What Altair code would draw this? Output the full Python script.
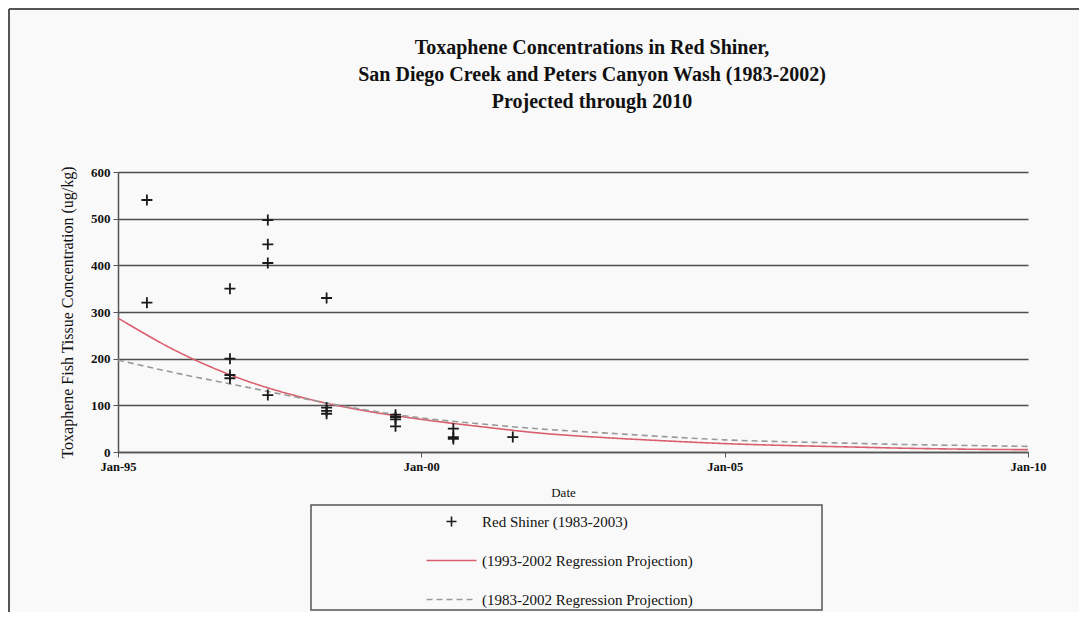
import altair as alt
import pandas as pd

# ---- data ----
S_PTS = "Red Shiner (1983-2003)"
S_RED = "(1993-2002 Regression Projection)"
S_GRAY = "(1983-2002 Regression Projection)"

pt_dates = ["1995-06-24", "1995-06-24",
            "1996-11-05", "1996-11-05", "1996-11-05", "1996-11-05",
            "1997-06-21", "1997-06-21", "1997-06-21", "1997-06-21",
            "1998-06-10", "1998-06-10", "1998-06-10", "1998-06-10",
            "1999-07-30", "1999-07-30", "1999-07-30", "1999-07-30",
            "2000-07-12", "2000-07-12", "2000-07-12",
            "2001-07-05"]
pt_values = [540, 320,
             350, 200, 165, 158,
             497, 445, 405, 122,
             330, 95, 88, 82,
             80, 75, 70, 55,
             50, 32, 28,
             32]

curve_dates = ["1995-01-01", "1996-01-01", "1997-01-01", "1998-01-01",
               "1999-01-01", "2000-01-01", "2001-01-01", "2002-01-01",
               "2003-01-01", "2004-01-01", "2005-01-01", "2006-01-01",
               "2007-01-01", "2008-01-01", "2009-01-01", "2010-01-01"]
red_values = [287, 214, 158, 118, 90, 70, 54, 40, 31, 24, 18, 14, 11, 8, 6, 5]
gray_values = [197, 168, 142, 116, 92, 73, 60, 49, 41, 33, 26, 22, 19, 16, 14, 12]

series_order = [S_PTS, S_RED, S_GRAY]
series_colors = ["#1a1a1a", "#d95f6e", "#9a9a9a"]
series_shapes = ["M-1,0H1M0,-1V1", "M-5,0H5", "M-5,0H5"]
series_dashes = [[1, 0], [1, 0], [6, 4]]

pts = pd.DataFrame({"date": pd.to_datetime(pt_dates), "value": pt_values, "series": S_PTS})
curves = pd.concat([
    pd.DataFrame({"date": pd.to_datetime(curve_dates), "value": red_values, "series": S_RED}),
    pd.DataFrame({"date": pd.to_datetime(curve_dates), "value": gray_values, "series": S_GRAY}),
])

FONT = "Liberation Serif"

legend = alt.Legend(orient="none", legendX=326, legendY=342, title=None,
                    symbolSize=100, symbolStrokeWidth=1.6, labelOffset=23,
                    rowPadding=23, padding=0, symbolOffset=0,
                    labelFont=FONT, labelFontSize=15, labelColor="#111",
                    labelLimit=500)

x_enc = alt.X("date:T",
              scale=alt.Scale(domain=[alt.DateTime(year=1995, month=1, date=1),
                                      alt.DateTime(year=2010, month=1, date=1)]),
              axis=alt.Axis(values=[alt.DateTime(year=y, month=1, date=1) for y in (1995, 2000, 2005, 2010)],
                            format="%b-%y", grid=False, title="Date",
                            titleX=445, titleY=34, titleBaseline="top",
                            titleFont=FONT, titleFontSize=13, titleFontWeight="normal",
                            labelFont=FONT, labelFontSize=12.5, labelFontWeight="bold",
                            labelFlush=False, labelPadding=3, tickSize=5))
y_enc = alt.Y("value:Q",
              scale=alt.Scale(domain=[0, 600], nice=False),
              axis=alt.Axis(values=[0, 100, 200, 300, 400, 500, 600],
                            title="Toxaphene Fish Tissue Concentration (ug/kg)",
                            titleFont=FONT, titleFontSize=16, titleFontWeight="normal",
                            titlePadding=15,
                            labelFont=FONT, labelFontSize=13, labelFontWeight="bold",
                            labelPadding=3, tickSize=5,
                            grid=True, gridColor="#4d4d4d", gridWidth=1.6))

color_enc = alt.Color("series:N", scale=alt.Scale(domain=series_order, range=series_colors), legend=legend)

frame_src = pd.DataFrame({"k": [0]})
legend_box = alt.Chart(frame_src).mark_rect(filled=False, stroke="#555", strokeWidth=1.5).encode(
    x=alt.value(193), x2=alt.value(704), y=alt.value(333), y2=alt.value(438))
outer_top = alt.Chart(frame_src).mark_rule(color="#555", strokeWidth=2).encode(
    x=alt.value(-109), x2=alt.value(961), y=alt.value(-163))
outer_left = alt.Chart(frame_src).mark_rule(color="#555", strokeWidth=2).encode(
    x=alt.value(-109), y=alt.value(-163), y2=alt.value(440))

lines = alt.Chart(curves).mark_line(interpolate="monotone", strokeWidth=1.6).encode(
    x=x_enc, y=y_enc, color=color_enc,
    strokeDash=alt.StrokeDash("series:N", scale=alt.Scale(domain=series_order, range=series_dashes), legend=legend))

points = alt.Chart(pts).mark_point(size=121, strokeWidth=1.8, opacity=1, filled=False).encode(
    x=x_enc, y=y_enc, color=color_enc,
    shape=alt.Shape("series:N", scale=alt.Scale(domain=series_order, range=series_shapes), legend=legend))

chart = alt.layer(outer_top, outer_left, legend_box, lines, points).properties(
    width=910, height=280,
    autosize=alt.AutoSizeParams(type="none"),
    padding={"left": 110, "top": 164, "right": 51, "bottom": 160},
    background="#f9f9f9",
    title=alt.Title(["Toxaphene Concentrations in Red Shiner,",
                     "San Diego Creek and Peters Canyon Wash (1983-2002)",
                     "Projected through 2010"],
                    font=FONT, fontSize=20, fontWeight="bold", lineHeight=27,
                    dx=19, offset=0, dy=104, anchor="middle", color="#111"),
).configure_view(stroke=None).configure_axis(
    domainColor="#555", tickColor="#555", domainWidth=1.5, labelColor="#111", titleColor="#111"
)

chart.save("out.html", embed_options={"renderer": "svg", "actions": False})
